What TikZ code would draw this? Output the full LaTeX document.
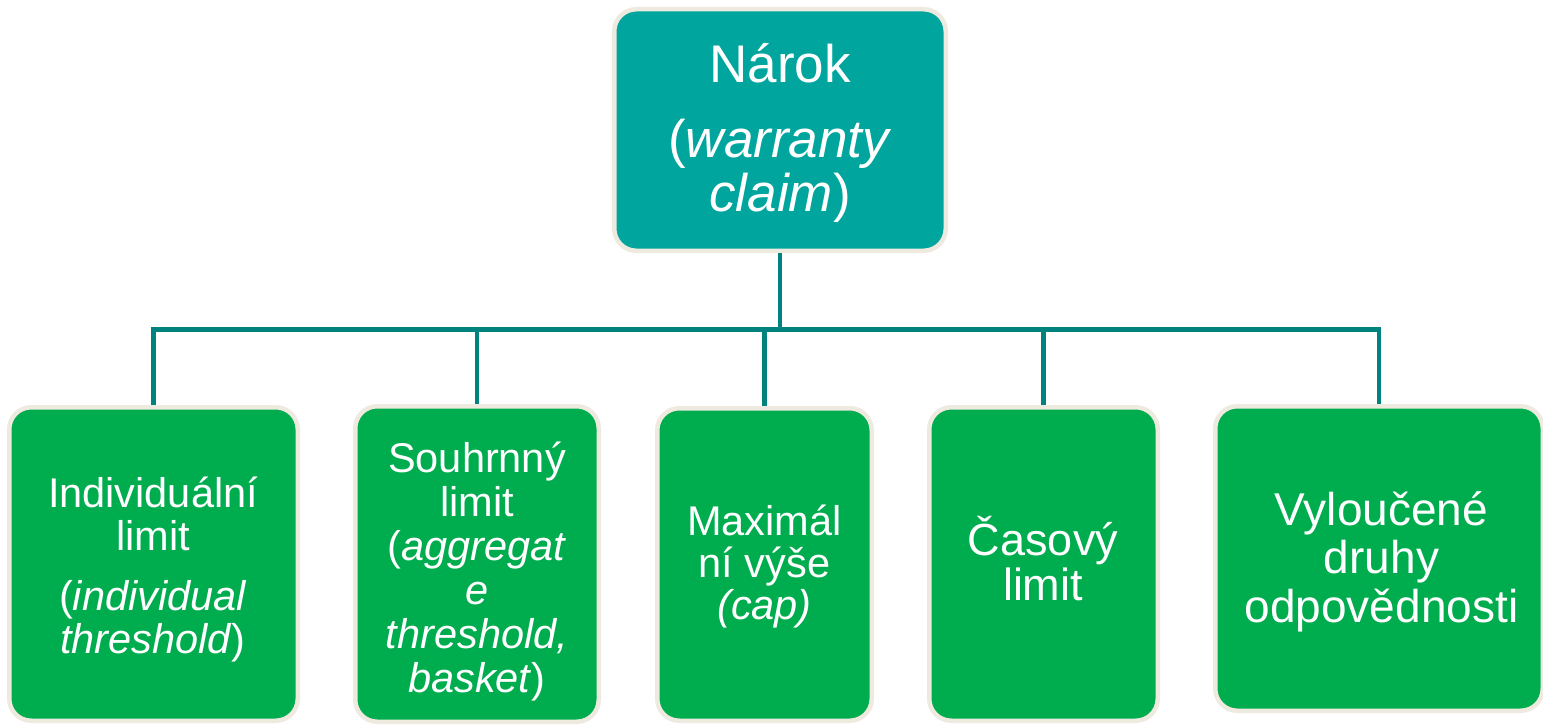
\documentclass[tikz,border=0pt]{standalone}
\usepackage{fontspec}
\setmainfont{Liberation Sans}
\definecolor{teal1}{RGB}{0,165,157}
\definecolor{green1}{RGB}{0,173,78}
\definecolor{border}{RGB}{238,234,223}
\definecolor{connc}{RGB}{0,130,126}
\newcommand\tstack[2]{\vtop{\lineskiplimit=-\maxdimen\lineskip=0pt\baselineskip=#1\halign{\hfil##\hfil\cr#2\crcr}}}
\begin{document}
\begin{tikzpicture}[x=1pt,y=-1pt,
  box/.style={draw=border, line width=4.5pt, rounded corners=22pt, inner sep=0pt},
  topbox/.style={box, fill=teal1},
  leaf/.style={box, fill=green1},
  txt/.style={text=white, inner sep=0pt, outer sep=0pt, anchor=base},
  conn/.style={draw=connc, line width=4.5pt}]
\useasboundingbox (0,0) rectangle (1543,725);
% boxes
\node[topbox, minimum width=331.5pt, minimum height=241.5pt] (top) at (780,130) {};
\node[leaf, minimum width=288.5pt, minimum height=313.5pt] (b1) at (153.5,564) {};
\node[leaf, minimum width=243.5pt, minimum height=315.5pt] (b2) at (477,564) {};
\node[leaf, minimum width=214.5pt, minimum height=312.5pt] (b3) at (764.5,564.5) {};
\node[leaf, minimum width=228.5pt, minimum height=313.5pt] (b4) at (1043.5,564) {};
\node[leaf, minimum width=327.5pt, minimum height=304.5pt] (b5) at (1379,558.5) {};
% texts
\node[txt, font=\fontsize{53}{55}\selectfont] (t0) at (780,82)
  {\tstack{55pt}{Nárok\cr\noalign{\vskip20pt}(\textit{warranty}\cr\textit{claim})}};
\node[txt, font=\fontsize{41.5}{43}\selectfont] (t1) at (153,507)
  {\tstack{43pt}{Individuální\cr limit\cr\noalign{\vskip17pt}(\textit{individual}\cr\textit{threshold})}};
\node[txt, font=\fontsize{41.5}{44}\selectfont] (t2) at (477,472)
  {\tstack{44pt}{Souhrnný\cr limit\cr(\textit{aggregat}\cr\textit{e}\cr\textit{threshold,}\cr\textit{basket})}};
\node[txt, font=\fontsize{41.5}{42}\selectfont] (t3) at (764.5,535)
  {\tstack{42pt}{Maximál\cr ní výše\cr\textit{(cap)}}};
\node[txt, font=\fontsize{45}{45}\selectfont] (t4) at (1043,555)
  {\tstack{45pt}{Časový\cr limit}};
\node[txt, font=\fontsize{46}{48.5}\selectfont] (t5) at (1381.5,525)
  {\tstack{48.5pt}{Vyloučené\cr druhy\cr odpovědnosti}};
% connectors
\coordinate (bus) at (780,329.5);
\draw[conn] (top.south) -- (top.south |- bus);
\draw[conn] (b1.north) |- (bus) -| (b5.north);
\draw[conn] (b2.north) -- (b2.north |- bus);
\draw[conn] (b3.north) -- (b3.north |- bus);
\draw[conn] (b4.north) -- (b4.north |- bus);
\end{tikzpicture}
\end{document}
